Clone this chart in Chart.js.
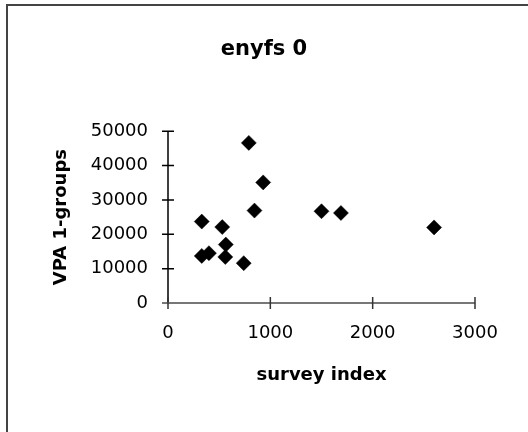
<!DOCTYPE html>
<html>
<head>
<meta charset="utf-8">
<script src="https://cdn.jsdelivr.net/npm/chart.js@4.4.1/dist/chart.umd.min.js"></script>
<style>
  html, body { margin: 0; padding: 0; background: #fff; }
  #wrap { width: 528px; height: 432px; }
</style>
</head>
<body>
<div id="wrap"><canvas id="scatterChart" width="528" height="432"></canvas></div>
<script>
// données
const surveyIndex = [330, 530, 790, 930, 845, 1500, 1690, 2600, 565, 330, 400, 560, 740];
const vpaGroups = [23700, 22100, 46600, 35100, 26900, 26700, 26200, 22000, 17000, 13700, 14500, 13400, 11600];
const xTicks = [0, 1000, 2000, 3000];
const yTicks = [0, 10000, 20000, 30000, 40000, 50000];

const points = surveyIndex.map((x, i) => ({ x: x, y: vpaGroups[i] }));

// cadre + axes avec graduations croisées
const axesPlugin = {
  id: 'axesPlugin',
  beforeDraw(chart) {
    const c = chart.ctx;
    c.save();
    c.fillStyle = '#fff';
    c.fillRect(0, 0, chart.width, chart.height);
    c.strokeStyle = '#444';
    c.lineWidth = 2;
    c.beginPath();
    c.moveTo(7, chart.height);
    c.lineTo(7, 5);
    c.lineTo(chart.width, 5);
    c.stroke();
    c.restore();
  },
  beforeDatasetsDraw(chart) {
    const c = chart.ctx;
    const xs = chart.scales.x;
    const ys = chart.scales.y;
    const x0 = xs.getPixelForValue(0);
    const y0 = ys.getPixelForValue(0);
    c.save();
    // axe Y
    c.strokeStyle = '#000';
    c.lineWidth = 1.5;
    c.beginPath();
    c.moveTo(x0, ys.getPixelForValue(yTicks[yTicks.length - 1]));
    c.lineTo(x0, y0);
    yTicks.forEach(v => {
      const p = ys.getPixelForValue(v);
      c.moveTo(x0 - 6, p);
      c.lineTo(x0 + 6, p);
    });
    c.stroke();
    // axe X
    c.strokeStyle = '#777';
    c.lineWidth = 2;
    c.beginPath();
    c.moveTo(x0 - 6, y0);
    c.lineTo(xs.getPixelForValue(xTicks[xTicks.length - 1]), y0);
    c.stroke();
    c.strokeStyle = '#333';
    c.lineWidth = 1.5;
    c.beginPath();
    xTicks.forEach(v => {
      const p = xs.getPixelForValue(v);
      c.moveTo(p, y0 - 6);
      c.lineTo(p, y0 + 6);
    });
    c.stroke();
    c.restore();
  }
};

new Chart(document.getElementById('scatterChart'), {
  type: 'scatter',
  data: {
    datasets: [{
      label: 'enyfs 0',
      data: points,
      pointStyle: 'rectRot',
      pointRadius: 7.5,
      pointHoverRadius: 7.5,
      backgroundColor: '#000',
      borderColor: '#000',
      borderWidth: 0.5
    }]
  },
  options: {
    responsive: false,
    animation: false,
    events: [],
    layout: { padding: 0 },
    plugins: {
      legend: { display: false },
      tooltip: { enabled: false },
      title: {
        display: true,
        text: 'enyfs 0',
        color: '#000',
        font: { family: 'DejaVu Sans', size: 21, weight: 'bold' },
        padding: { top: 37, bottom: 69 }
      }
    },
    scales: {
      x: {
        type: 'linear',
        min: 0,
        max: 3000,
        afterBuildTicks: s => { s.ticks = xTicks.map(v => ({ value: v })); },
        afterFit: s => { s.height = 129; },
        grid: { display: false, drawTicks: false },
        border: { display: false },
        ticks: {
          color: '#000',
          padding: 20,
          maxRotation: 0,
          callback: v => String(v),
          font: { family: 'DejaVu Sans', size: 18 }
        },
        title: {
          display: true,
          text: 'survey index',
          color: '#000',
          font: { family: 'DejaVu Sans', size: 18, weight: 'bold' },
          padding: { top: 0, bottom: 46 }
        }
      },
      y: {
        type: 'linear',
        min: 0,
        max: 50000,
        afterBuildTicks: s => { s.ticks = yTicks.map(v => ({ value: v })); },
        afterFit: s => { s.width = 168; },
        grid: { display: false, drawTicks: false },
        border: { display: false },
        ticks: {
          color: '#000',
          padding: 20,
          callback: v => String(v),
          font: { family: 'DejaVu Sans', size: 18 }
        },
        title: {
          display: true,
          text: 'VPA 1-groups',
          color: '#000',
          font: { family: 'DejaVu Sans', size: 18, weight: 'bold' },
          padding: { top: 51, bottom: 0 }
        }
      },
      // marge droite (axe vide) pour garder le titre centré sur toute la largeur
      yRight: {
        type: 'linear',
        position: 'right',
        min: 0,
        max: 50000,
        afterFit: s => { s.width = 53; },
        grid: { display: false, drawTicks: false },
        border: { display: false },
        ticks: { display: false }
      }
    }
  },
  plugins: [axesPlugin]
});
</script>
</body>
</html>
